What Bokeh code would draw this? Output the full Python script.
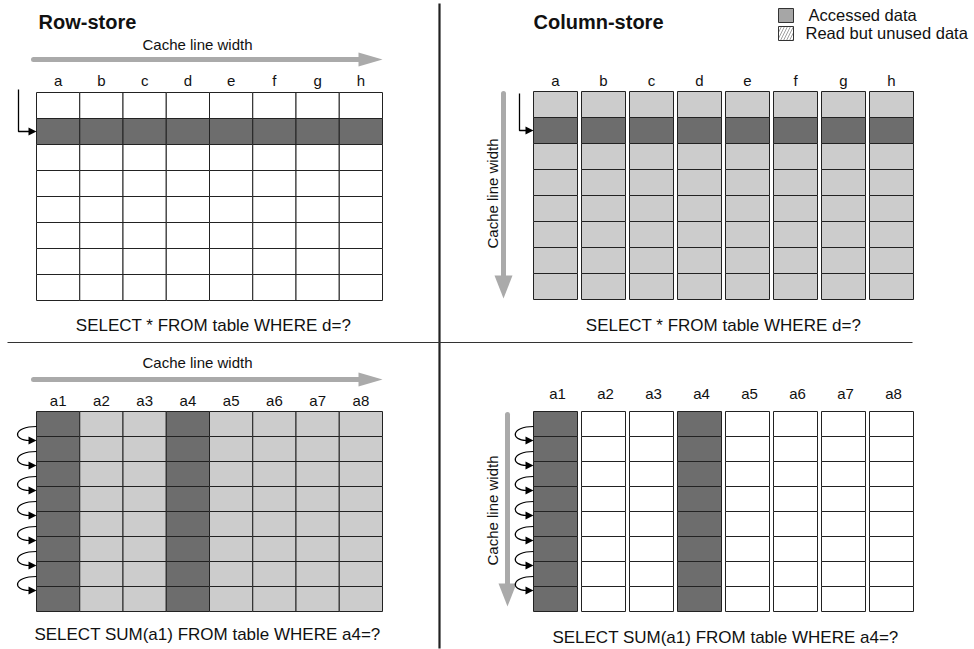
import math
from bokeh.plotting import figure
from bokeh.models import Range1d
from bokeh.core.properties import value
from bokeh.embed import file_html
from bokeh.resources import INLINE

# ---------------- data ----------------
row_store_cols = ["a", "b", "c", "d", "e", "f", "g", "h"]
col_store_cols = ["a", "b", "c", "d", "e", "f", "g", "h"]
sum_cols = ["a1", "a2", "a3", "a4", "a5", "a6", "a7", "a8"]
n_rows = 8
accessed_row = 1              # row hit by "WHERE d=?"
accessed_cols = ["a1", "a4"]  # columns touched by SUM(a1) ... WHERE a4=?
titles = ["Row-store", "Column-store"]
queries = ["SELECT * FROM table WHERE d=?", "SELECT * FROM table WHERE d=?",
           "SELECT SUM(a1) FROM table WHERE a4=?", "SELECT SUM(a1) FROM table WHERE a4=?"]
legend_labels = ["Accessed data", "Read but unused data"]
arrow_label = "Cache line width"

DARK = "#6d6d6d"
LIGHT = "#cccccc"
ARROW = "#aaaaaa"
FONT = value("Liberation Sans")

W, H = 974, 649
p = figure(width=W, height=H, output_backend="svg", toolbar_location=None,
           x_range=Range1d(0, W), y_range=Range1d(H, 0),
           min_border=0, outline_line_color=None)
p.axis.visible = False
p.grid.visible = False
p.background_fill_color = "white"


def txt(x, y, s, size="15px", align="center", bold=False, angle=0.0):
    p.text(x=[x], y=[y], text=[s], text_font=FONT, text_font_size=size,
           text_align=align, text_baseline="middle", angle=angle,
           text_font_style="bold" if bold else "normal", text_color="#111111")


def grid_cells(x0, y0, col_w, gap, row_h, ncols, fills):
    L, R, T, B, F = [], [], [], [], []
    for c in range(ncols):
        for r in range(n_rows):
            left = x0 + c * (col_w + gap)
            L.append(left); R.append(left + col_w)
            T.append(y0 + r * row_h); B.append(y0 + (r + 1) * row_h)
            F.append(fills[c][r])
    p.quad(left=L, right=R, top=T, bottom=B, fill_color=F,
           line_color="#222222", line_width=1)


def h_arrow(x0, x1, y):
    p.line([x0, x1 - 22], [y, y], line_color=ARROW, line_width=5, line_cap="round")
    p.patch([x1 - 24, x1, x1 - 24], [y - 7, y, y + 7], fill_color=ARROW, line_color=None)


def v_arrow(x, y0, y1):
    p.line([x, x], [y0, y1 - 21], line_color=ARROW, line_width=5, line_cap="round")
    p.patch([x - 9, x + 9, x], [y1 - 23, y1 - 23, y1], fill_color=ARROW, line_color=None)


def head_right(x, y):
    p.patch([x - 8, x, x - 8], [y - 4, y, y + 4], fill_color="black", line_color=None)


def loops(edge, y0, row_h, left):
    n = n_rows - 1
    ys = [y0 + i * row_h + 15 for i in range(n)]
    ye = [y0 + (i + 1) * row_h + 4 for i in range(n)]
    p.bezier(x0=[edge] * n, y0=ys, x1=[edge - 7] * n, y1=ye,
             cx0=[left] * n, cy0=ys, cx1=[left] * n, cy1=ye,
             line_color="black", line_width=1.2)
    for y in ye:
        head_right(edge, y)


# ---------------- top-left: row store ----------------
txt(38, 21, titles[0], size="20px", align="left", bold=True)
txt(197, 44, arrow_label)
h_arrow(33, 382, 59)
cw = (382 - 36) / 8
for i, s in enumerate(row_store_cols):
    txt(36 + cw * (i + 0.5), 80, s)
fills = [[DARK if r == accessed_row else "white" for r in range(n_rows)] for _ in row_store_cols]
grid_cells(36, 92, cw, 0, 26, 8, fills)
p.line([18, 18, 30], [89, 131, 131], line_color="black", line_width=1.3)
head_right(36, 131)
txt(213, 325, queries[0], size="17px")

# ---------------- top-right: column store ----------------
txt(533, 21, titles[1], size="20px", align="left", bold=True)
p.quad(left=[778], right=[793], top=[8], bottom=[22], fill_color="#a6a6a6", line_color="#333333")
p.quad(left=[778], right=[793], top=[26], bottom=[40], fill_color="white", line_color="#333333",
       hatch_pattern="/", hatch_color="#888888", hatch_scale=6, hatch_weight=0.8)
txt(808, 14, legend_labels[0], size="16.5px", align="left")
txt(805, 32, legend_labels[1], size="16.5px", align="left")
for i, s in enumerate(col_store_cols):
    txt(533 + 48 * i + 22, 80, s)
fills = [[DARK if r == accessed_row else LIGHT for r in range(n_rows)] for _ in col_store_cols]
grid_cells(533, 91, 44, 4, 26, 8, fills)
v_arrow(503, 93, 298)
txt(492, 193, arrow_label, angle=math.pi / 2)
p.line([519, 519, 526], [93, 130, 130], line_color="black", line_width=1.3)
head_right(533, 130)
txt(723, 325, queries[1], size="17px")

# ---------------- bottom-left ----------------
txt(197, 362, arrow_label)
h_arrow(33, 382, 379)
for i, s in enumerate(sum_cols):
    txt(36 + cw * (i + 0.5), 400, s)
fills = [[DARK if s in accessed_cols else LIGHT for r in range(n_rows)] for s in sum_cols]
grid_cells(36, 411, cw, 0, 25, 8, fills)
loops(36, 411, 25, 12)
txt(207, 634, queries[2], size="17px")

# ---------------- bottom-right ----------------
for i, s in enumerate(sum_cols):
    txt(533 + 48 * i + 24, 393, s)
fills = [[DARK if s in accessed_cols else "white" for r in range(n_rows)] for s in sum_cols]
grid_cells(533, 411, 44, 4, 25, 8, fills)
v_arrow(507, 414, 606)
txt(492, 510, arrow_label, angle=math.pi / 2)
loops(533, 411, 25, 510)
txt(725, 637, queries[3], size="17px")

# ---------------- dividers ----------------
p.line([439, 439], [3, 648], line_color="#222222", line_width=2.2)
p.line([7, 912], [342, 342], line_color="#333333", line_width=1.2)

open("out.html", "w").write(file_html(p, INLINE))
